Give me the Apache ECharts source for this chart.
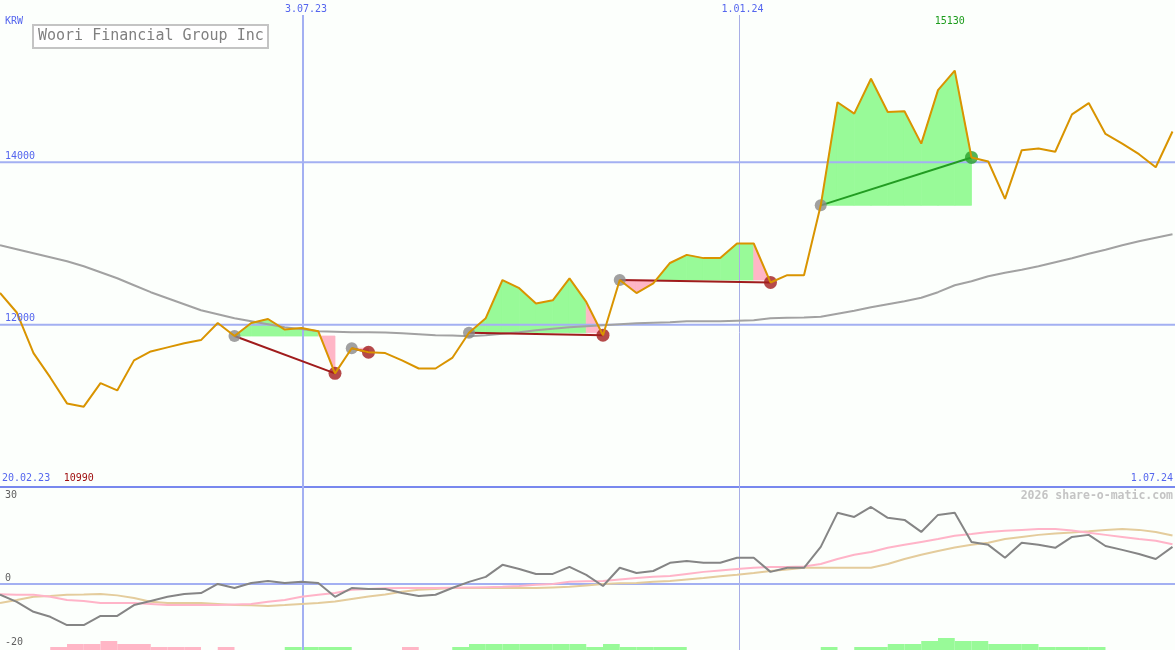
<!DOCTYPE html>
<html><head><meta charset="utf-8">
<script src="https://cdn.jsdelivr.net/npm/echarts@6/dist/echarts.min.js"></script>
<style>html,body{margin:0;padding:0;background:#fcfffc}#c{width:1175px;height:650px}</style>
</head><body><div id="c"></div>
<script>
// ---------- data ----------
const title = 'Woori Financial Group Inc';
const currency = 'KRW';
const watermark = '2026 share-o-matic.com';
const startDate = '20.02.23';
const endDate = '1.07.24';
const dateMarks = ['3.07.23', '1.01.24'];
const dateMarkAt = [18.07, 44.14];          // position in weekly-point units
const priceTicks = [12000, 14000];
const oscTicks = [30, 0, -20];

// weekly closing prices (KRW)
const price = [12390,12150,11650,11350,11030,10990,11280,11190,11560,11670,
  11720,11770,11810,12020,11860,12020,12070,11940,11960,11920,
  11400,11710,11660,11650,11560,11460,11460,11590,11900,12080,
  12550,12450,12260,12300,12570,12280,11870,12550,12390,12510,
  12760,12860,12820,12820,13000,13000,12520,12610,12610,13470,
  14740,14600,15030,14620,14630,14230,14890,15130,14060,14010,
  13550,14150,14170,14130,14590,14730,14350,14230,14100,13940,14380];
// long moving average
const ma = [12978,12929,12880,12831,12782,12720,12646,12572,12486,12400,
  12326,12252,12178,12129,12080,12043,12006,11969,11945,11920,
  11914,11908,11908,11902,11895,11883,11871,11865,11858,11871,
  11889,11908,11932,11951,11969,11982,11994,12006,12018,12025,
  12031,12043,12043,12043,12049,12055,12080,12086,12088,12098,
  12135,12172,12215,12252,12289,12332,12400,12486,12535,12597,
  12640,12677,12720,12769,12818,12874,12923,12978,13028,13071,13114];
// trades: [entry index, exit index]
const trades = [[14,20],[21,22],[28,36],[37,46],[49,58]];

// lower panel oscillator
const oscMain = [-3.7,-6.1,-9.5,-11.2,-14.0,-14.0,-10.9,-10.9,-7.2,-5.8,
  -4.4,-3.4,-3.1,0,-1.4,0.3,1.0,0.3,0.7,0.3,
  -4.4,-1.4,-1.7,-1.7,-3.1,-4.1,-3.7,-1.4,0.7,2.4,
  6.5,5.1,3.4,3.4,5.8,3.1,-0.7,5.5,3.7,4.4,
  7.2,7.8,7.2,7.2,8.9,8.9,4.1,5.5,5.5,12.6,
  24.2,22.8,26.2,22.5,21.8,17.7,23.5,24.2,14.3,13.3,
  8.9,14.0,13.3,12.3,16.0,16.7,12.9,11.6,10.2,8.5,12.6];
const oscPink = [-3.5,-3.7,-3.7,-4.4,-5.5,-5.8,-6.5,-6.5,-6.5,-6.8,
  -7.2,-7.2,-7.2,-7.2,-7.0,-6.8,-6.1,-5.5,-4.4,-3.7,
  -3.1,-2.0,-1.7,-1.5,-1.4,-1.4,-1.4,-1.3,-1.2,-1.1,
  -1.0,-0.7,-0.3,0,0.7,0.9,1.0,1.5,2.0,2.4,
  2.7,3.4,4.1,4.6,5.1,5.5,5.8,5.8,5.9,6.8,
  8.5,9.9,10.9,12.3,13.3,14.3,15.3,16.4,17.0,17.7,
  18.1,18.4,18.7,18.7,18.2,17.4,16.7,16.0,15.3,14.7,13.5];
const oscTan = [-6.5,-5.5,-4.4,-4.1,-3.7,-3.6,-3.4,-3.9,-4.8,-6.1,
  -6.5,-6.5,-6.5,-6.8,-7.2,-7.3,-7.5,-7.2,-6.8,-6.5,
  -6.0,-5.1,-4.3,-3.6,-2.7,-2.0,-1.7,-1.4,-1.4,-1.4,
  -1.4,-1.4,-1.4,-1.2,-1.0,-0.5,0,0.2,0.3,0.7,
  1.0,1.5,2.0,2.6,3.1,3.7,4.4,4.9,5.5,5.5,
  5.5,5.5,5.5,6.8,8.5,9.9,11.2,12.4,13.3,14.0,
  15.3,16.0,16.7,17.2,17.5,17.9,18.4,18.7,18.4,17.7,16.5];
// histogram levels (negative = pink, positive = green)
const histo = [0,0,0,-1,-2,-2,-3,-2,-2,-1,
  -1,-1,0,-1,0,0,0,1,1,1,
  1,0,0,0,-1,0,0,1,2,2,
  2,2,2,2,2,1,2,1,1,1,
  1,0,0,0,0,0,0,0,0,1,
  0,1,1,2,2,3,4,3,3,2,
  2,2,1,1,1,1,0,0,0,0,0];

// ---------- styles ----------
const W = 1175, H = 650;
const BLUE = '#5566ee', GRIDC = '#a3b0f2', SEP = '#7888ee';
const GREEN = '#98fa98', PINK = '#ffb6c6';
const MONO = 'DejaVu Sans Mono';

// fill polygons between price and entry level
const polys = [];
trades.forEach(([a, b]) => {
  const base = price[a];
  const gain = price[b] > base;
  for (let k = a; k < b; k++) {
    const p0 = price[k], p1 = price[k + 1];
    if (k === b - 1) { polys.push({pts: [[k, base], [k, p0], [k + 1, p1], [k + 1, base]], up: gain}); continue; }
    if ((p0 - base) * (p1 - base) < 0) {
      const xc = k + (base - p0) / (p1 - p0);
      polys.push({pts: [[k, base], [k, p0], [xc, base]], up: p0 > base});
      polys.push({pts: [[xc, base], [k + 1, p1], [k + 1, base]], up: p1 > base});
    } else {
      polys.push({pts: [[k, base], [k, p0], [k + 1, p1], [k + 1, base]], up: (p0 + p1) / 2 >= base});
    }
  }
});

const idx = price.map((_, i) => i);
const lineS = (name, data, color, xi, yi, z) => ({
  type: 'line', name, xAxisIndex: xi, yAxisIndex: yi, z,
  data: data.map((v, i) => [i, v]), showSymbol: false, silent: true,
  lineStyle: {color, width: 2}, itemStyle: {color}
});

const series = [
  {type: 'custom', xAxisIndex: 0, yAxisIndex: 0, z: 1, silent: true,
   renderItem: (params, api) => {
     const p = polys[params.dataIndex];
     const c = p.up ? GREEN : PINK;
     return {type: 'polygon', shape: {points: p.pts.map(q => api.coord(q))},
             style: {fill: c, stroke: c, lineWidth: 0.8}};
   },
   data: polys.map(p => p.pts[1])},
  lineS('ma', ma, '#a2a2a2', 0, 0, 3),
];
trades.forEach(([a, b]) => {
  const gain = price[b] > price[a];
  series.push({type: 'line', xAxisIndex: 0, yAxisIndex: 0, z: 4, silent: true, showSymbol: false,
    data: [[a, price[a]], [b, price[b]]],
    lineStyle: {color: gain ? '#229c22' : '#a01c1c', width: 2}});
});
series.push({type: 'scatter', xAxisIndex: 0, yAxisIndex: 0, z: 5, symbolSize: 12, silent: true,
  itemStyle: {color: '#8a8a8a'}, data: trades.map(([a]) => [a, price[a]])});
series.push({type: 'scatter', xAxisIndex: 0, yAxisIndex: 0, z: 5, symbolSize: 13, silent: true,
  itemStyle: {color: '#a31d1d'}, data: trades.filter(([a, b]) => price[b] <= price[a]).map(([a, b]) => [b, price[b]])});
series.push({type: 'scatter', xAxisIndex: 0, yAxisIndex: 0, z: 5, symbolSize: 13, silent: true,
  itemStyle: {color: '#2aa02a'}, data: trades.filter(([a, b]) => price[b] > price[a]).map(([a, b]) => [b, price[b]])});
series.push(lineS('price', price, '#d99400', 0, 0, 6));

// lower panel
series.push({type: 'custom', xAxisIndex: 1, yAxisIndex: 2, z: 1, silent: true,
  renderItem: (params, api) => {
    const i = api.value(0), v = api.value(1);
    const p0 = api.coord([i, 0]), p1 = api.coord([i + 1, Math.abs(v)]);
    return {type: 'rect', shape: {x: p0[0], y: p1[1], width: p1[0] - p0[0], height: p0[1] - p1[1]},
            style: {fill: v > 0 ? GREEN : PINK}};
  },
  data: histo.map((v, i) => [i, v]).filter(d => d[1] !== 0)});
series.push(lineS('tan', oscTan, '#e4cc9c', 1, 1, 3));
series.push(lineS('pink', oscPink, '#ffb4c8', 1, 1, 3));
series.push(lineS('osc', oscMain, '#858585', 1, 1, 4));

const xMax = 70.15;
const option = {
  animation: false,
  backgroundColor: '#fcfffc',
  grid: [
    {left: 0, right: 0, top: 0, height: 487},
    {left: 0, right: 0, top: 487, height: 163}
  ],
  xAxis: [
    {type: 'value', gridIndex: 0, min: 0, max: xMax, axisLabel: {show: false}, axisTick: {show: false},
     splitLine: {show: false}, axisLine: {show: true, lineStyle: {color: SEP, width: 2}}},
    {type: 'value', gridIndex: 1, min: 0, max: xMax, show: false}
  ],
  yAxis: [
    {type: 'value', gridIndex: 0, min: 10000, max: 16000, show: false},
    {type: 'value', gridIndex: 1, min: -22.5, max: 33, show: false},
    {type: 'value', gridIndex: 1, min: 0, max: 54.33, show: false}
  ],
  series
};

const chart = echarts.init(document.getElementById('c'));
chart.setOption(option);

// ---------- annotations placed through the axes ----------
const xp = v => chart.convertToPixel({xAxisIndex: 0}, v);
const yp = v => chart.convertToPixel({yAxisIndex: 0}, v);
const yo = v => chart.convertToPixel({yAxisIndex: 1}, v);
const txt = (text, x, y, fill, align, extra) => ({type: 'text', x, y, z: 20, silent: true,
  style: Object.assign({text, fill, font: '10px "' + MONO + '"', align: align || 'left', verticalAlign: 'middle'}, extra || {})});
const g = [];
priceTicks.forEach(v => {
  const y = yp(v);
  g.push({type: 'line', z: 1.5, silent: true, shape: {x1: 0, y1: y, x2: W, y2: y}, style: {stroke: GRIDC, lineWidth: 2}});
  g.push(txt(String(v), 5, y - 6, BLUE));
});
const y0 = yo(0);
g.push({type: 'line', z: 1.5, silent: true, shape: {x1: 0, y1: y0, x2: W, y2: y0}, style: {stroke: GRIDC, lineWidth: 2}});
oscTicks.forEach(v => {
  const y = v === 0 ? yo(v) - 6 : yo(v);
  g.push(txt(String(v), 5, y, '#606060'));
});
dateMarks.forEach((d, i) => {
  const x = Math.round(xp(dateMarkAt[i])) + (i === 0 ? 0 : 0.5);
  g.push({type: 'line', z: 1.5, silent: true, shape: {x1: x, y1: 15, x2: x, y2: H},
          style: {stroke: i === 0 ? GRIDC : '#a8aee6', lineWidth: i === 0 ? 2 : 1}});
  g.push(txt(d, x + 3, 9, BLUE, 'center'));
});
g.push(txt(currency, 5, 21, BLUE));
g.push(txt(startDate, 2, 478, BLUE));
g.push(txt(endDate, 1173, 478, BLUE, 'right'));
const iMax = price.indexOf(Math.max(...price));
const iMin = price.indexOf(Math.min(...price));
g.push(txt(String(price[iMax]), xp(iMax) - 5, 21, '#1c9c1c', 'center'));
g.push(txt(String(price[iMin]), xp(iMin) - 5, 478, '#a01010', 'center'));
g.push(txt(watermark, 1173, 496, '#c4c4c4', 'right', {font: 'bold 11.5px "' + MONO + '"'}));
g.push({type: 'rect', z: 19, silent: true, shape: {x: 33, y: 25, width: 235, height: 23},
        style: {fill: '#ffffff', stroke: '#c4c4c4', lineWidth: 2}});
g.push(txt(title, 38, 36.5, '#808080', 'left', {font: '15px "' + MONO + '"'}));
chart.setOption({graphic: g});
</script></body></html>
